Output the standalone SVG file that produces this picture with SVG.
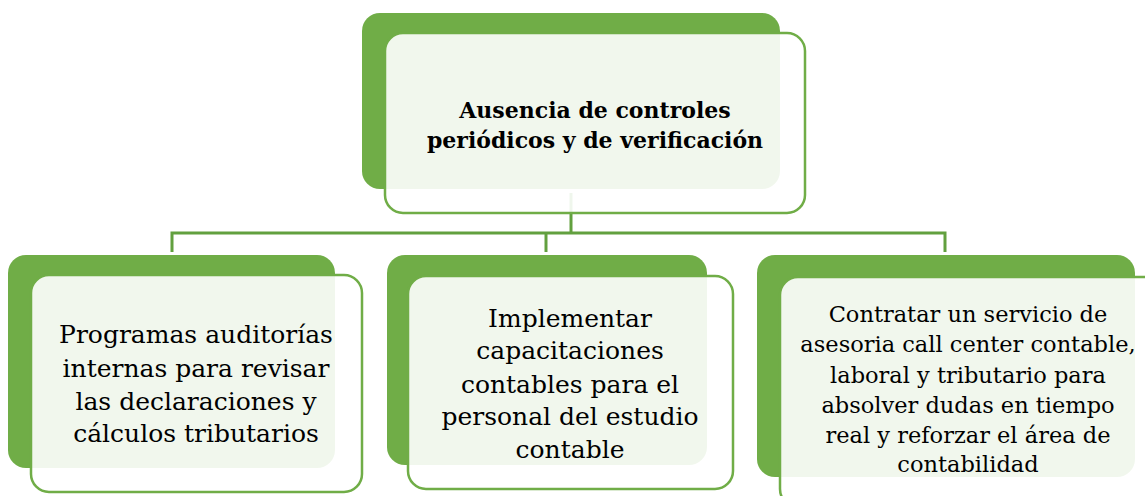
<svg xmlns="http://www.w3.org/2000/svg" width="1145" height="496" viewBox="0 0 1145 496">
<style>
.back{fill:#70AD47;}
.front{fill:#ffffff;fill-opacity:0.9;stroke:#70AD47;stroke-width:2.5;}
.conn{fill:none;stroke:#62A03F;stroke-width:3;}
.t{font-family:"DejaVu Serif","Liberation Serif",serif;fill:#000;text-anchor:middle;}
.tb{font-weight:bold;font-size:22px;}
.tn{font-size:25px;}
.ts{font-size:22.5px;}
</style>
<rect width="1145" height="496" fill="#ffffff"/>
<g id="connectors">
<path class="conn" d="M571,193 V233"/>
<path class="conn" d="M172,252 V233 H945 V252"/>
<path class="conn" d="M546,233 V252"/>
</g>
<g id="node-top">
<rect class="back" x="362" y="13" width="418" height="176" rx="18"/>
<rect class="front" x="385" y="33" width="420" height="180" rx="18"/>
<text class="t tb" x="595" y="118">Ausencia de controles</text>
<text class="t tb" x="595" y="148">periódicos y de verificación</text>
</g>
<g id="node-1">
<rect class="back" x="8" y="255" width="327" height="213" rx="18"/>
<rect class="front" x="31" y="275" width="331" height="217" rx="18"/>
<text class="t tn" x="196" y="343">Programas auditorías</text>
<text class="t tn" x="196" y="377">internas para revisar</text>
<text class="t tn" x="196" y="410">las declaraciones y</text>
<text class="t tn" x="196" y="442">cálculos tributarios</text>
</g>
<g id="node-2">
<rect class="back" x="387" y="255" width="320" height="210" rx="18"/>
<rect class="front" x="408" y="276" width="325" height="213" rx="18"/>
<text class="t tn" x="570" y="327">Implementar</text>
<text class="t tn" x="570" y="359">capacitaciones</text>
<text class="t tn" x="570" y="393">contables para el</text>
<text class="t tn" x="570" y="425">personal del estudio</text>
<text class="t tn" x="570" y="458">contable</text>
</g>
<g id="node-3">
<rect class="back" x="757" y="255" width="378" height="222" rx="18"/>
<rect class="front" x="780" y="277" width="385" height="230" rx="18"/>
<text class="t ts" x="968" y="322">Contratar un servicio de</text>
<text class="t ts" x="968" y="352">asesoria call center contable,</text>
<text class="t ts" x="968" y="383">laboral y tributario para</text>
<text class="t ts" x="968" y="413">absolver dudas en tiempo</text>
<text class="t ts" x="968" y="443">real y reforzar el área de</text>
<text class="t ts" x="968" y="472">contabilidad</text>
</g>
</svg>
